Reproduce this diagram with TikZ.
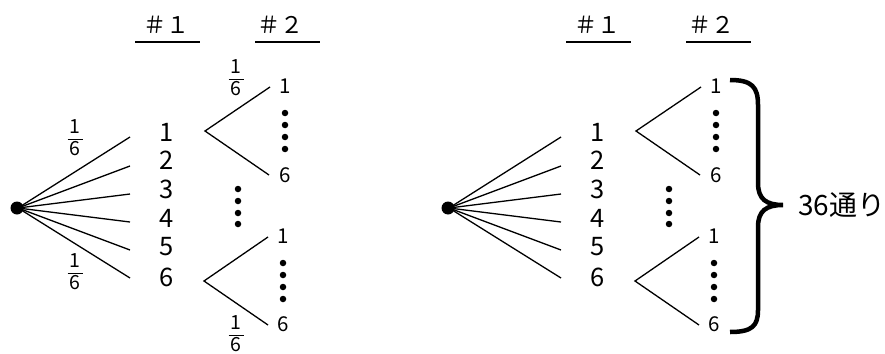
\documentclass[tikz,border=0pt]{standalone}
\usepackage{fontspec}
\setmainfont{Noto Sans CJK JP}
% stacked fraction 1/6 in the text font
\newcommand\onesixth{\vbox{\offinterlineskip\halign{\hfil##\hfil\cr
  \strut1\cr\noalign{\kern1.5pt}\rule{15pt}{0.9pt}\cr\noalign{\kern1.5pt}\strut6\cr}}}
\begin{document}
\begin{tikzpicture}[x=1pt,y=-1pt,
  branch/.style={line width=1.3pt},
  bigdot/.style={circle,fill,inner sep=0pt,minimum size=13pt},
  smalldot/.style={circle,fill,inner sep=0pt,minimum size=6.5pt},
  firstnum/.style={font=\fontsize{25.5}{25.5}\selectfont,inner sep=0pt},
  secondnum/.style={font=\fontsize{20.5}{20.5}\selectfont,inner sep=0pt},
  head/.style={font=\fontsize{23}{23}\selectfont,inner sep=0pt},
  prob/.style={font=\fontsize{19.5}{14}\selectfont,inner sep=0pt},
  headrule/.style={line width=1.3pt},
  brace/.style={line width=4.5pt},
  total/.style={font=\fontsize{28}{28}\selectfont,inner sep=0pt,anchor=west}
]
\useasboundingbox (0,0) rectangle (885,353);

% two copies of the tree: first throw (#1) and second throw (#2)
\foreach \p/\dx in {L/0,R/431}{
\begin{scope}[xshift=\dx pt]
  % column headings
  \node[head] (\p-h1) at (166,25) {＃１};
  \node[head] (\p-h2) at (280,25) {＃２};
  \coordinate (\p-h1a) at (135,42); \coordinate (\p-h1b) at (200,42);
  \coordinate (\p-h2a) at (255,42); \coordinate (\p-h2b) at (320,42);
  \draw[headrule] (\p-h1a) -- (\p-h1b);
  \draw[headrule] (\p-h2a) -- (\p-h2b);

  % first throw: root and six branches
  \foreach \i/\y in {1/137,2/166,3/194,4/222,5/250,6/278}
    \coordinate (\p-e\i) at (130,\y);
  \foreach \i/\y in {1/132,2/160,3/189,4/218,5/247,6/277}
    \node[firstnum] (\p-n\i) at (167,\y) {\i};
  \coordinate (\p-rc) at (18,208);
  \foreach \i in {1,...,6}
    \draw[branch] (\p-rc) -- (\p-e\i);
  \node[bigdot] (\p-root) at (17,208) {};

  % second throw after a 1
  \coordinate (\p-ua) at (205,131);
  \coordinate (\p-ut) at (270,87);
  \coordinate (\p-ub) at (269,175);
  \draw[branch] (\p-ut) -- (\p-ua) -- (\p-ub);
  \node[secondnum] (\p-u1) at (285,86) {1};
  \node[secondnum] (\p-u6) at (285,175) {6};
  \foreach \j/\y in {1/113,2/125,3/137,4/149}
    \node[smalldot] (\p-ud\j) at (285,\y) {};

  % omitted middle cases
  \foreach \j/\y in {1/189,2/201,3/213,4/224}
    \node[smalldot] (\p-md\j) at (238,\y) {};

  % second throw after a 6
  \coordinate (\p-la) at (204,281);
  \coordinate (\p-lt) at (268,237);
  \coordinate (\p-lb) at (268,325);
  \draw[branch] (\p-lt) -- (\p-la) -- (\p-lb);
  \node[secondnum] (\p-l1) at (283,236) {1};
  \node[secondnum] (\p-l6) at (283,324) {6};
  \foreach \j/\y in {1/263,2/275,3/287,4/299}
    \node[smalldot] (\p-ld\j) at (283,\y) {};
\end{scope}
}

% branch probabilities on the left tree
\node[prob] (pa) at (75,140) {\onesixth};
\node[prob] (pb) at (75,274) {\onesixth};
\node[prob] (pc) at (236,80) {\onesixth};
\node[prob] (pd) at (236,336) {\onesixth};

% brace gathering all outcomes of the right tree
\draw[brace] (730,80) .. controls (752,80) and (758,87) .. (758,105)
  -- (758,183) .. controls (758,199) and (766,205) .. (783,205)
  .. controls (766,205) and (758,211) .. (758,227)
  -- (758,310) .. controls (758,326) and (752,332) .. (730,332);
\node[total] (count) at (798,205) {36通り};
\end{tikzpicture}
\end{document}
